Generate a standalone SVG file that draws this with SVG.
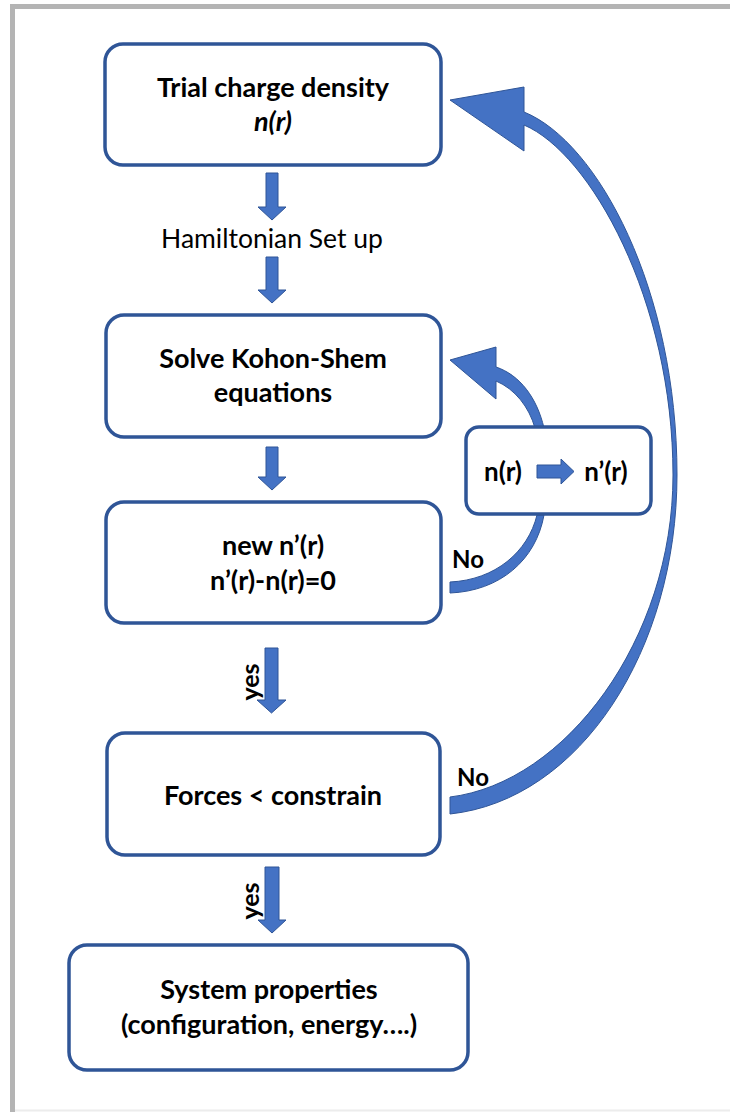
<svg xmlns="http://www.w3.org/2000/svg" width="730" height="1112" viewBox="0 0 730 1112">
<style>
.box{fill:#ffffff;stroke:#2f5597;stroke-width:3.5}
.t{font-family:Lato,"Liberation Sans",sans-serif;font-weight:bold;font-size:27px;fill:#000;text-anchor:middle}
.r{font-family:Lato,"Liberation Sans",sans-serif;font-size:26.5px;fill:#000;text-anchor:middle}
.lbl{font-family:Lato,"Liberation Sans",sans-serif;font-weight:bold;font-size:24px;fill:#000;text-anchor:middle}
.arr{fill:#4472c4;stroke:#2f5597;stroke-width:1}
</style>
<rect width="730" height="1112" fill="#ffffff"/>
<path d="M12.5,1112 V6.5 H730" fill="none" stroke="#b4b4b4" stroke-width="5"/>
<line x1="15" y1="1110.5" x2="730" y2="1110.5" stroke="#ececec" stroke-width="2"/>

<g id="connectors">
  <path class="arr" d="M266,173 H278 V207 H286 L272,220 L258,207 H266 Z"/>
  <path class="arr" d="M266,257 H278 V290 H286 L272,303 L258,290 H266 Z"/>
  <path class="arr" d="M266,447 H278 V477 H286 L272,490 L258,477 H266 Z"/>
  <path class="arr" d="M265,648 H278 V700 H286 L271.5,713 L257,700 H265 Z"/>
  <path class="arr" d="M265,867 H279 V920 H286 L272,933 L258,920 H265 Z"/>
  <path class="arr" d="M450,100 L524,87 L524,112 C598,142 677,290 677,475 C677,650 580,800 450,814 L450,797 C565,783 673,640 673,475 C673,300 590,153 524,125 L524,151 Z"/>
  <path class="arr" d="M450,360 L496,347 L496,367 C520,375 537,398 544,428 L535,428 C529,407 515,389 496,381 L496,399 Z"/>
  <path class="arr" d="M537,515 L544,515 C536,560 500,591 450,593 L450,582 C495,580 528,552 537,515 Z"/>
  <text class="lbl" x="468" y="568">No</text>
  <text class="lbl" x="473" y="786">No</text>
  <text class="lbl" transform="translate(259,682) rotate(-90)" style="font-size:25px">yes</text>
  <text class="lbl" transform="translate(259,901) rotate(-90)" style="font-size:25px">yes</text>
  <text class="r" x="272" y="248">Hamiltonian Set up</text>
</g>

<g id="node-trial">
  <rect class="box" x="105" y="44" width="336" height="121" rx="18"/>
  <text class="t" x="273" y="97">Trial charge density</text>
  <text class="t" x="273" y="131" font-style="italic">n(r)</text>
</g>
<g id="node-solve">
  <rect class="box" x="106" y="315" width="335" height="122" rx="18"/>
  <text class="t" x="273" y="368">Solve Kohon-Shem</text>
  <text class="t" x="273" y="402">equations</text>
</g>
<g id="node-new">
  <rect class="box" x="106" y="502" width="335" height="121" rx="18"/>
  <text class="t" x="273" y="555">new n’(r)</text>
  <text class="t" x="273" y="590">n’(r)-n(r)=0</text>
</g>
<g id="node-update">
  <rect class="box" x="466" y="427" width="185" height="87" rx="13"/>
  <text class="lbl" x="503" y="481" style="font-size:26px">n(r)</text>
  <path class="arr" d="M537,465 H561 V459 L574,471.5 L561,484 V478 H537 Z"/>
  <text class="lbl" x="606" y="481" style="font-size:26px">n’(r)</text>
</g>
<g id="node-forces">
  <rect class="box" x="107" y="733" width="333" height="122" rx="18"/>
  <text class="t" x="273" y="805">Forces &lt; constrain</text>
</g>
<g id="node-system">
  <rect class="box" x="69" y="945" width="399" height="125" rx="18"/>
  <text class="t" x="269" y="999">System properties</text>
  <text class="t" x="269" y="1034">(configuration, energy….)</text>
</g>
</svg>
